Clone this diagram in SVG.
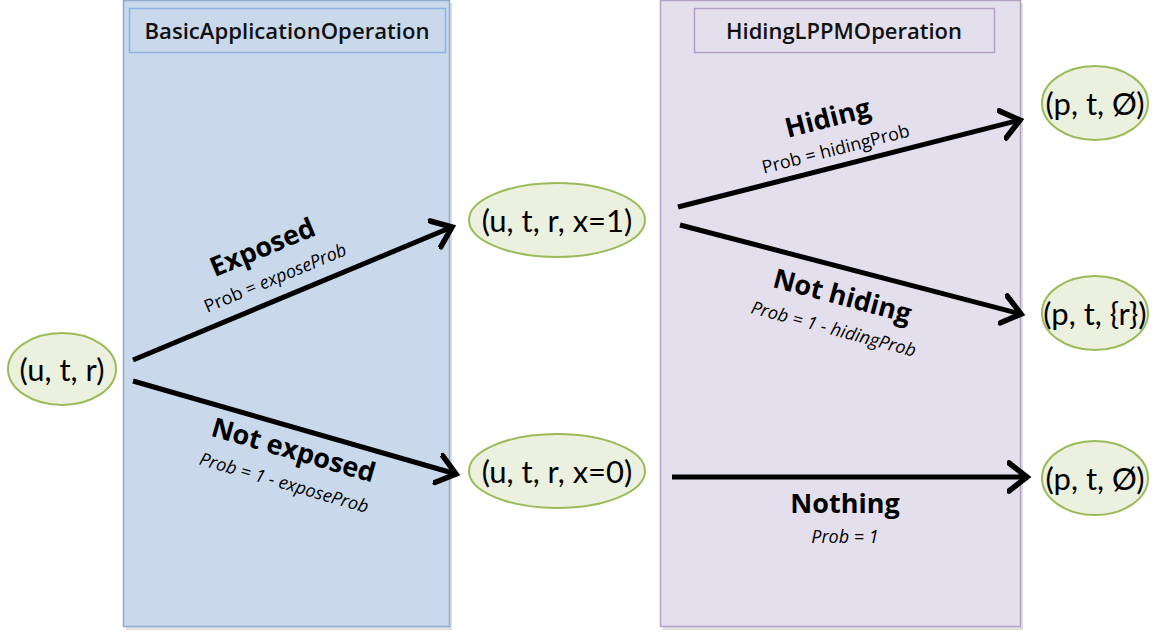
<svg xmlns="http://www.w3.org/2000/svg" width="1158" height="634" viewBox="0 0 1158 634">
<style>
.node ellipse{fill:#ebf1de;stroke:#9bbb59;stroke-width:2}
.node text{font-family:Lato,"Open Sans",sans-serif;font-size:31px;fill:#000;text-anchor:middle;dominant-baseline:central}
.title{font-family:"Open Sans",sans-serif;font-size:21px;font-weight:600;fill:#111;text-anchor:middle;dominant-baseline:central}
.conn{stroke:#000;stroke-width:5;fill:none;marker-end:url(#arr)}
.lbl{font-family:"Open Sans",sans-serif;font-size:27px;font-weight:bold;text-anchor:middle}
.prob{font-family:"Open Sans",sans-serif;font-size:18px;text-anchor:middle}
.it{font-style:italic}
</style>
<defs>
<marker id="arr" markerUnits="userSpaceOnUse" markerWidth="40" markerHeight="40" refX="20" refY="20" orient="auto" viewBox="0 0 40 40">
<path d="M2,6 L20,20 L2,34" fill="none" stroke="#000" stroke-width="5.5" stroke-linecap="round"/>
</marker>
</defs>
<g id="panel-basic">
<rect x="126" y="3" width="326" height="627" fill="#000" opacity="0.12"/>
<rect x="123.5" y="0.5" width="326" height="626" fill="#c9d9eb" stroke="#8eabcd" stroke-width="1.5"/>
<rect x="129.5" y="8.5" width="316" height="44" fill="#c9d9eb" stroke="#8db3e2" stroke-width="1.5"/>
<text class="title" x="287" y="31" textLength="285" lengthAdjust="spacingAndGlyphs">BasicApplicationOperation</text>
</g>
<g id="panel-hiding">
<rect x="663" y="3" width="360" height="627" fill="#000" opacity="0.12"/>
<rect x="660.5" y="0.5" width="360" height="626" fill="#e4dfec" stroke="#b2a1c7" stroke-width="1.5"/>
<rect x="694.5" y="8.5" width="300" height="44" fill="#e4dfec" stroke="#b2a1c7" stroke-width="1.5"/>
<text class="title" x="844" y="31" textLength="236" lengthAdjust="spacingAndGlyphs">HidingLPPMOperation</text>
</g>
<g id="connectors">
<line class="conn" x1="133" y1="360" x2="452" y2="227"/>
<line class="conn" x1="133" y1="381" x2="456" y2="474"/>
<line class="conn" x1="678" y1="207" x2="1020" y2="120"/>
<line class="conn" x1="680" y1="225" x2="1021" y2="314"/>
<line class="conn" x1="672" y1="477" x2="1027" y2="477"/>
</g>
<g id="labels">
<g transform="translate(266,256) rotate(-22.6)"><text class="lbl" x="0" y="0">Exposed</text><text class="prob" x="0" y="30">Prob = <tspan class="it">exposeProb</tspan></text></g>
<g transform="translate(291,459) rotate(16.2)"><text class="lbl" x="0" y="0">Not exposed</text><text class="prob it" x="0" y="31">Prob = 1 - exposeProb</text></g>
<g transform="translate(830,127) rotate(-14.3)"><text class="lbl" x="0" y="0">Hiding</text><text class="prob" x="0" y="29">Prob = hidingProb</text></g>
<g transform="translate(840,305) rotate(15)"><text class="lbl" x="0" y="0">Not hiding</text><text class="prob it" x="0" y="31">Prob = 1 - hidingProb</text></g>
<text class="lbl" x="845" y="513">Nothing</text>
<text class="prob it" x="845" y="543">Prob = 1</text>
</g>
<g id="n-utr" class="node"><ellipse cx="62" cy="369" rx="54" ry="36"/><text x="62" y="369">(u, t, r)</text></g>
<g id="n-x1" class="node"><ellipse cx="557" cy="220" rx="88" ry="37"/><text x="557" y="220">(u, t, r, x=1)</text></g>
<g id="n-x0" class="node"><ellipse cx="557" cy="471" rx="88" ry="37"/><text x="557" y="471">(u, t, r, x=0)</text></g>
<g id="n-pt0a" class="node"><ellipse cx="1095" cy="103" rx="53" ry="37"/><text x="1095" y="103">(p, t, Ø)</text></g>
<g id="n-ptr" class="node"><ellipse cx="1095" cy="313" rx="53" ry="37"/><text x="1095" y="313">(p, t, {r})</text></g>
<g id="n-pt0b" class="node"><ellipse cx="1095" cy="478" rx="53" ry="37"/><text x="1095" y="478">(p, t, Ø)</text></g>
</svg>
